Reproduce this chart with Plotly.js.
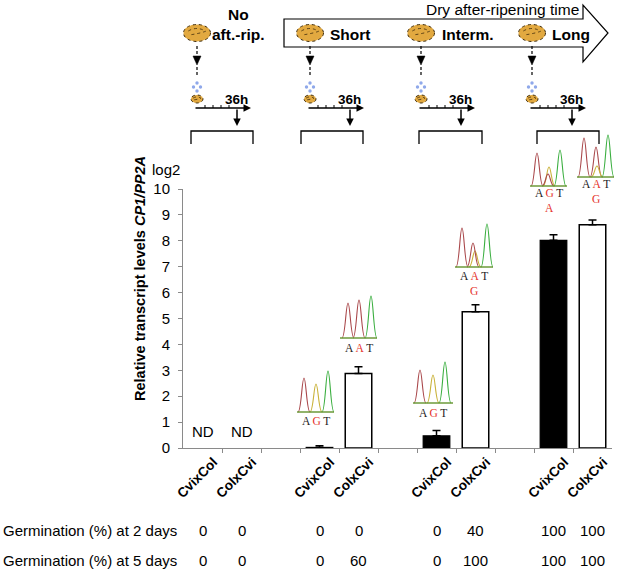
<!DOCTYPE html>
<html><head><meta charset="utf-8">
<script src="https://cdn.plot.ly/plotly-3.0.1.min.js"></script>
<style>html,body{margin:0;padding:0;background:#fff}#chart{width:617px;height:571px}</style>
</head><body><div id="chart"></div>
<script>
// ---------------- data ----------------
const treatments = ['No aft.-rip.', 'Short', 'Interm.', 'Long'];
const crosses = ['CvixCol', 'ColxCvi'];
const cvixcolLevel = [null, 0.02, 0.47, 8.02];   // log2 CP1/PP2A
const cvixcolErr   = [0, 0.07, 0.21, 0.21];
const colxcviLevel = [null, 2.88, 5.26, 8.62];
const colxcviErr   = [0, 0.26, 0.27, 0.18];
const ndLabel = ['ND', null, null, null];           // not detected
const germ2days = [0, 0, 0, 0, 0, 40, 100, 100];     // per treatment: CvixCol, ColxCvi
const germ5days = [0, 0, 0, 60, 0, 100, 100, 100];
const yTickVals = [0, 1, 2, 3, 4, 5, 6, 7, 8, 9, 10];

// ---------------- geometry helpers (layout only) ----------------
const L = 183, R = 612, T = 189, B = 448;
const px = v => (v - L) / (R - L);
const py = v => (B - v) / (B - T);
const P = (x, y) => px(x).toFixed(5) + ',' + py(y).toFixed(5);

const xCv = treatments.map((t, i) => 3 * i);
const xCo = treatments.map((t, i) => 3 * i + 1);
const catX = [], catText = [];
treatments.forEach((t, i) => { catX.push(xCv[i], xCo[i]); catText.push('<b>' + crosses[0] + '</b>', '<b>' + crosses[1] + '</b>'); });
const boundaries = [];
for (let k = 0; k < 10; k++) boundaries.push(k + 0.5);

const traces = [
  {
    type: 'bar', name: crosses[0], x: xCv, y: cvixcolLevel, width: 0.68,
    marker: { color: '#000', line: { color: '#000', width: 1.3 } },
    error_y: { type: 'data', symmetric: false, array: cvixcolErr, arrayminus: cvixcolErr.map(() => 0),
               color: '#000', thickness: 1.5, width: 4 },
    hoverinfo: 'skip'
  },
  {
    type: 'bar', name: crosses[1], x: xCo, y: colxcviLevel, width: 0.68,
    marker: { color: '#fff', line: { color: '#000', width: 1.5 } },
    error_y: { type: 'data', symmetric: false, array: colxcviErr, arrayminus: colxcviErr.map(() => 0),
               color: '#000', thickness: 1.5, width: 4 },
    hoverinfo: 'skip'
  }
];

const shapes = [];
const annotations = [];
const F = 'Liberation Sans, Arial, sans-serif';
function note(x, y, text, font, extra) {
  annotations.push(Object.assign({ xref: 'paper', yref: 'paper', x: px(x), y: py(y), xanchor: 'center', yanchor: 'middle',
    text: text, showarrow: false, font: font }, extra || {}));
}

// ND labels
ndLabel.forEach((t, i) => {
  if (!t) return;
  [xCv[i], xCo[i]].forEach(x => annotations.push({ xref: 'x', yref: 'y', x: x, y: 0.65, xanchor: 'center', yanchor: 'middle',
    text: t, showarrow: false, font: { family: F, size: 15, color: '#000' } }));
});

// germination rows
const rowY = [530, 560];
[['Germination (%) at 2 days', germ2days], ['Germination (%) at 5 days', germ5days]].forEach((row, r) => {
  note(1, rowY[r], row[0], { family: F, size: 15, color: '#000' }, { xanchor: 'left' });
  row[1].forEach((v, k) => annotations.push({ xref: 'x', yref: 'paper', x: catX[k], y: py(rowY[r]), xanchor: 'center', yanchor: 'middle',
    text: String(v), showarrow: false, font: { family: F, size: 15, color: '#000' } }));
});

// y title and unit
note(140, 279, '<b>Relative transcript levels <i>CP1/PP2A</i></b>', { family: F, size: 14.5, color: '#000' }, { textangle: -90 });
note(166, 170, 'log2', { family: F, size: 15, color: '#000' });

// ---------------- top diagram ----------------
shapes.push({ type: 'path', xref: 'paper', yref: 'paper',
  path: 'M' + P(284, 19) + ' L' + P(583, 19) + ' L' + P(583, 5) + ' L' + P(608, 33) + ' L' + P(583, 62) +
        ' L' + P(583, 47) + ' L' + P(284, 47) + ' Z',
  fillcolor: '#fff', line: { color: '#000', width: 1.2 } });
note(502, 9, 'Dry after-ripening time', { family: F, size: 15.5, color: '#000' });

function seed(cx, cy, w, h) {
  shapes.push({ type: 'circle', xref: 'paper', yref: 'paper',
    x0: px(cx - w / 2), x1: px(cx + w / 2), y0: py(cy + h / 2), y1: py(cy - h / 2),
    fillcolor: '#e2a940', line: { color: '#3d2a0a', width: 1, dash: 'dot' } });
  shapes.push({ type: 'path', xref: 'paper', yref: 'paper',
    path: 'M' + P(cx - w * 0.32, cy - h * 0.12) + ' Q' + P(cx, cy - h * 0.42) + ' ' + P(cx + w * 0.32, cy - h * 0.1) +
          ' Q' + P(cx + w * 0.05, cy + h * 0.05) + ' ' + P(cx - w * 0.32, cy + h * 0.12),
    line: { color: '#3d2a0a', width: 0.8, dash: 'dot' } });
}

const groupX = [197, 310, 421, 532];
const bracketX = [[191, 253], [301, 363], [419, 482], [537, 599]];
const labelPos = [[238, 34], [350, 34], [468, 34], [571, 34]];
const labelTxt = ['aft.-rip.', 'Short', 'Interm.', 'Long'];

groupX.forEach((sx, g) => {
  seed(sx, 33, 27, 17);
  note(labelPos[g][0], labelPos[g][1], '<b>' + labelTxt[g] + '</b>', { family: F, size: 15.5, color: '#000' });
  // dashed arrow down
  shapes.push({ type: 'line', xref: 'paper', yref: 'paper', x0: px(sx), x1: px(sx), y0: py(46), y1: py(56),
    line: { color: '#000', width: 1.2, dash: '3px,2px' } });
  shapes.push({ type: 'path', xref: 'paper', yref: 'paper', path: 'M' + P(sx - 4, 56) + ' L' + P(sx + 4, 56) + ' L' + P(sx, 65) + ' Z',
    fillcolor: '#000', line: { color: '#000', width: 0.5 } });
  shapes.push({ type: 'line', xref: 'paper', yref: 'paper', x0: px(sx), x1: px(sx), y0: py(67), y1: py(76),
    line: { color: '#000', width: 1.2, dash: '3px,2px' } });
  // water droplets
  [[0, -4], [-3.5, 0], [3.5, 0], [0, 4]].forEach(d => shapes.push({ type: 'circle', xref: 'paper', yref: 'paper',
    x0: px(sx + d[0] - 1.7), x1: px(sx + d[0] + 1.7), y0: py(87 + d[1] + 1.7), y1: py(87 + d[1] - 1.7),
    fillcolor: '#8fa8ea', line: { width: 0 } }));
  // small seed
  seed(sx, 99, 12, 8);
  // time axis
  annotations.push({ xref: 'paper', yref: 'paper', x: px(sx + 54), y: py(108), ax: -57, ay: 0, text: '', showarrow: true,
    arrowhead: 2, arrowsize: 1, arrowwidth: 1.5, arrowcolor: '#000' });
  [8, 16, 24, 32].forEach(d => shapes.push({ type: 'line', xref: 'paper', yref: 'paper',
    x0: px(sx + d), x1: px(sx + d), y0: py(108), y1: py(105), line: { color: '#000', width: 1 } }));
  note(sx + 39, 99, '<b>36h</b>', { family: F, size: 13.5, color: '#000' });
  annotations.push({ xref: 'paper', yref: 'paper', x: px(sx + 40), y: py(126), ax: 0, ay: -18, text: '', showarrow: true,
    arrowhead: 2, arrowsize: 1, arrowwidth: 1.5, arrowcolor: '#000' });
  // bracket
  const b = bracketX[g];
  shapes.push({ type: 'path', xref: 'paper', yref: 'paper',
    path: 'M' + P(b[0], 144) + ' L' + P(b[0], 131) + ' L' + P(b[1], 131) + ' L' + P(b[1], 144),
    line: { color: '#000', width: 1.3 } });
});
note(238, 14, '<b>No</b>', { family: F, size: 15.5, color: '#000' });

// ---------------- sequencing traces (decoration) ----------------
const CR = '#a9474a', CY = '#c9b23a', CG = '#3aae3f', RED = '#e5322b';
const red = s => '<span style="color:' + RED + '">' + s + '</span>';
const sp = '\u2009';
const chroms = [
  { x0: 297, base: 412, w: 37, peaks: [[7, 34, CR], [19, 28, CY], [31, 41, CG]], seq: ['A', 'G', 'T'], alt: null, ty: 421 },
  { x0: 340, base: 338, w: 37, peaks: [[8, 35, CR], [19, 38, CR], [31, 42, CG]], seq: ['A', 'A', 'T'], alt: null, ty: 348 },
  { x0: 413, base: 403, w: 40, peaks: [[7, 33, CR], [20, 28, CY], [32, 41, CG]], seq: ['A', 'G', 'T'], alt: null, ty: 413 },
  { x0: 455, base: 267, w: 38, peaks: [[7, 39, CR], [20, 16, CY], [18, 24, CR], [32, 43, CG]], seq: ['A', 'A', 'T'], alt: 'G', ty: 278 },
  { x0: 530, base: 186, w: 37, peaks: [[7, 33, CR], [19, 19, CY], [18, 12, CR], [30, 36, CG]], seq: ['A', 'G', 'T'], alt: 'A', ty: 195 },
  { x0: 577, base: 177, w: 37, peaks: [[7, 39, CR], [19, 30, CR], [20, 11, CY], [31, 42, CG]], seq: ['A', 'A', 'T'], alt: 'G', ty: 186 }
];
chroms.forEach(c => {
  c.peaks.forEach(p => {
    const cx = c.x0 + p[0], top = c.base - p[1], hw = 6;
    shapes.push({ type: 'path', xref: 'paper', yref: 'paper',
      path: 'M' + P(cx - hw, c.base) + ' C' + P(cx - hw * 0.45, c.base) + ' ' + P(cx - hw * 0.35, top) + ' ' + P(cx, top) +
            ' C' + P(cx + hw * 0.35, top) + ' ' + P(cx + hw * 0.45, c.base) + ' ' + P(cx + hw, c.base),
      line: { color: p[2], width: 1.1 } });
  });
  shapes.push({ type: 'line', xref: 'paper', yref: 'paper', x0: px(c.x0), x1: px(c.x0 + c.w), y0: py(c.base), y1: py(c.base),
    line: { color: '#6c9a3a', width: 1.6 } });
  let txt = c.seq[0] + sp + red(c.seq[1]) + sp + c.seq[2];
  let ty = c.ty;
  if (c.alt) { txt += '<br>' + red(c.alt); ty = c.ty + 5; }
  note(c.x0 + c.w / 2, ty, txt, { family: 'Liberation Serif, Times New Roman, serif', size: 11.5, color: '#222' });
});

const layout = {
  width: 617, height: 571,
  margin: { l: L, r: 617 - R, t: T, b: 571 - B },
  paper_bgcolor: '#fff', plot_bgcolor: '#fff',
  showlegend: false, barmode: 'overlay',
  font: { family: F, color: '#000' },
  xaxis: {
    range: [-0.5, 10.5], tickmode: 'array', tickvals: catX, ticktext: catText, tickangle: -45,
    tickfont: { family: F, size: 13.5, color: '#000' }, ticks: '', ticklabelshift: 11,
    showline: true, linecolor: '#8a8a8a', linewidth: 1, showgrid: false, zeroline: false,
    minor: { tickmode: 'array', tickvals: boundaries, ticks: 'outside', ticklen: 4, tickcolor: '#8a8a8a', tickwidth: 1, showgrid: false }
  },
  yaxis: {
    range: [0, 10], tickmode: 'array', tickvals: yTickVals, ticks: 'outside', ticklen: 4, tickcolor: '#8a8a8a',
    tickfont: { family: F, size: 15, color: '#000' }, showline: true, linecolor: '#8a8a8a', linewidth: 1,
    showgrid: false, zeroline: false, ticklabelstandoff: 5
  },
  shapes: shapes,
  annotations: annotations
};

Plotly.newPlot('chart', traces, layout, { displayModeBar: false, staticPlot: true });
</script>
</body></html>
